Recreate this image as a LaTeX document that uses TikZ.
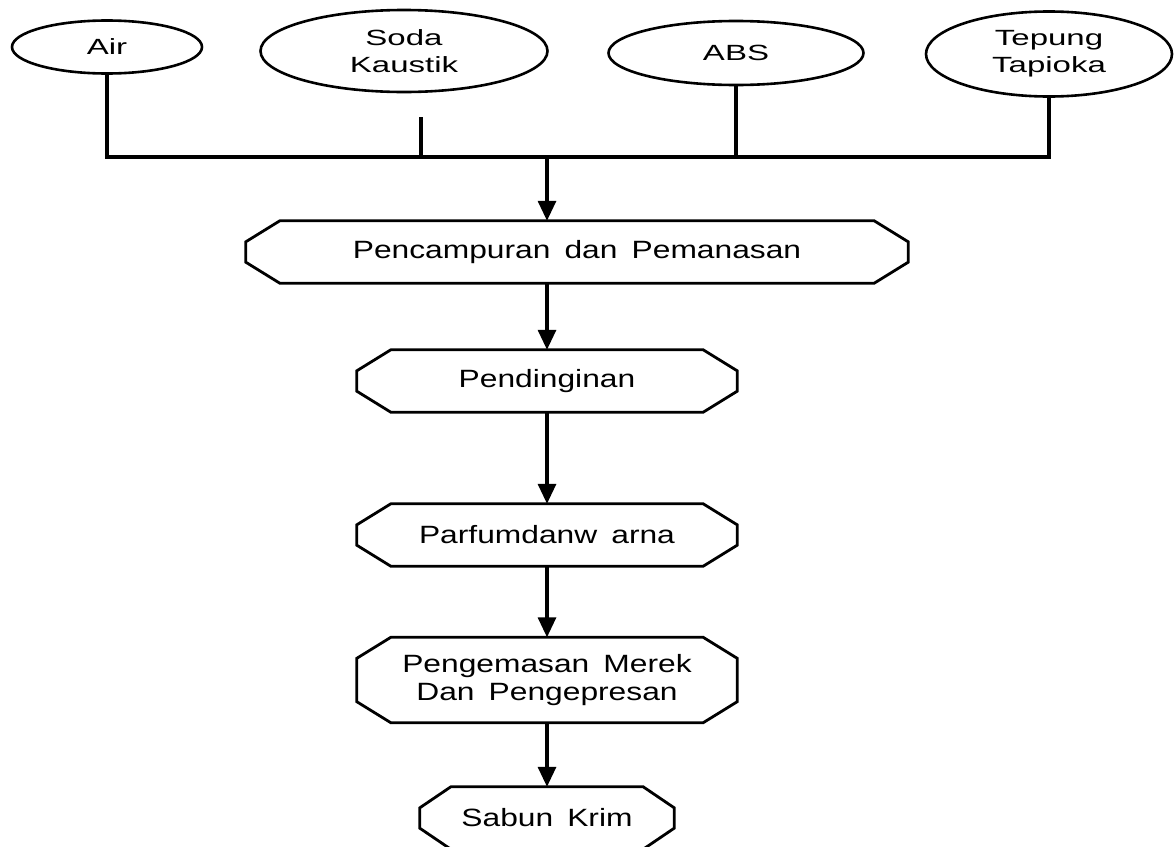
\documentclass[tikz,border=0pt]{standalone}
\usepackage{fontspec}
\setmainfont{Liberation Sans}
\newfontfamily\procfont[FakeStretch=1.27,WordSpace=1.6]{Liberation Sans}
\newfontfamily\topfont[FakeStretch=1.5]{Liberation Sans}
\usetikzlibrary{arrows.meta,calc,shapes.geometric}
\newcommand\chbox[3]{%
  \draw[boxl] ($(#1.north west)+(#2pt,0pt)$) -- ($(#1.north east)+(-#2pt,0pt)$)
    -- ($(#1.north east)+(0pt,-#3pt)$) -- ($(#1.south east)+(0pt,#3pt)$)
    -- ($(#1.south east)+(-#2pt,0pt)$) -- ($(#1.south west)+(#2pt,0pt)$)
    -- ($(#1.south west)+(0pt,#3pt)$) -- ($(#1.north west)+(0pt,-#3pt)$) -- cycle;}
\begin{document}
\begin{tikzpicture}[x=1pt,y=-1pt,
  conn/.style={line width=3.2pt},
  arr/.style={line width=3.2pt,-{Triangle[length=20pt,width=18pt]}},
  boxl/.style={line width=2.8pt,line join=miter},
  ell/.style={ellipse,draw,line width=2.6pt,inner sep=0pt,align=center,
    font=\topfont\fontsize{22}{27}\selectfont},
  proc/.style={rectangle,draw=none,inner sep=0pt,align=center,
    font=\procfont\fontsize{25}{28}\selectfont},
]
\useasboundingbox (0,0) rectangle (1174,846);
% inputs
\node[ell,minimum width=190pt,minimum height=53pt] (air) at (107,47) {Air};
\node[ell,minimum width=287pt,minimum height=82pt] (soda) at (404,51) {Soda\\Kaustik};
\node[ell,minimum width=255pt,minimum height=64pt] (abs) at (736,53) {ABS};
\node[ell,minimum width=246pt,minimum height=85pt] (tep) at (1049,54) {Tepung\\Tapioka};
\coordinate (busL) at (107,157);
\coordinate (busR) at (1049,157);
\coordinate (sodaT) at (421,117);
% processes
\node[proc,minimum width=662pt,minimum height=62pt] (p1) at (577,252) {Pencampuran dan Pemanasan};
\node[proc,minimum width=380pt,minimum height=62pt] (p2) at (547,381) {Pendinginan};
\node[proc,minimum width=380pt,minimum height=62pt] (p3) at (547,535) {Parfumdanw arna};
\node[proc,minimum width=380pt,minimum height=85pt] (p4) at (547,680) {Pengemasan Merek\\Dan Pengepresan};
\node[proc,minimum width=254pt,minimum height=62pt] (p5) at (547,818) {Sabun Krim};
\chbox{p1}{34}{21}
\chbox{p2}{34}{21}
\chbox{p3}{34}{21}
\chbox{p4}{34}{21}
\chbox{p5}{31}{21}
% connectors
\draw[conn] (air.south) -- (busL) -- (busR) -- (tep.south);
\draw[conn] (sodaT) -- (sodaT |- busL);
\draw[conn] (abs.south) -- (abs.south |- busL);
\draw[arr] (busL -| p2) -- (p1.north -| p2);
\draw[arr] (p1.south -| p2) -- (p2.north);
\draw[arr] (p2.south) -- (p3.north);
\draw[arr] (p3.south) -- (p4.north);
\draw[arr] (p4.south) -- (p5.north);
\end{tikzpicture}
\end{document}
